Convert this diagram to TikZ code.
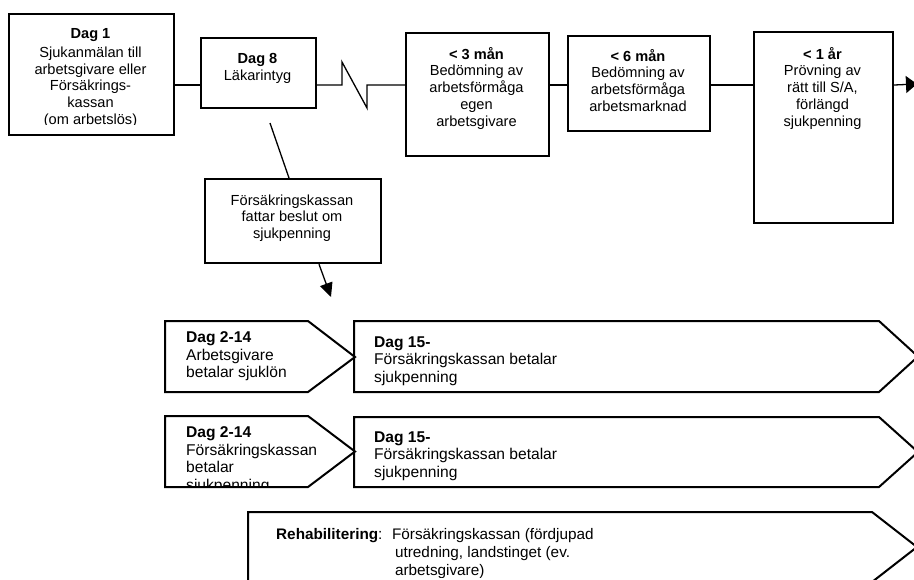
\documentclass[tikz,border=0pt]{standalone}
\usepackage{fontspec}
\setmainfont{Liberation Sans}
\usetikzlibrary{arrows.meta,calc}
\begin{document}
\begin{tikzpicture}[x=1pt,y=-1pt,
  box/.style={draw, line width=2.2pt, inner sep=0pt, anchor=north west},
  conn/.style={line width=1.3pt},
  ttxt/.style={inner sep=0pt, anchor=north, align=center, font=\fontsize{14.6}{16.7}\selectfont},
  btxt/.style={inner sep=0pt, anchor=north west, align=left, font=\fontsize{15.6}{17.5}\selectfont},
  pent/.style={draw, line width=2pt, line join=miter}
]
\useasboundingbox (0,0) rectangle (914,579);
\clip (0,0) rectangle (914,579);

% top boxes
\node[box, minimum width=165pt, minimum height=121pt] (d1) at (8,13) {};
\node[box, minimum width=115pt, minimum height=70pt] (d8) at (200,37) {};
\node[box, minimum width=143pt, minimum height=123pt] (m3) at (405,32) {};
\node[box, minimum width=142pt, minimum height=95pt] (m6) at (567,35) {};
\node[box, minimum width=139pt, minimum height=191pt] (y1) at (753,31) {};
\node[box, minimum width=176pt, minimum height=84pt] (fk) at (204,178) {};

\begin{scope}
\clip (8,0) rectangle (173,124);
\node[ttxt] (d1t) at (90.5,28) {\textbf{Dag 1}\\[2.5pt]Sjukanmälan till\\arbetsgivare eller\\Försäkrings-\\kassan\\(om arbetslös)};
\end{scope}
\node[ttxt] (d8t) at (257.5,53) {\textbf{Dag 8}\\Läkarintyg};
\node[ttxt] (m3t) at (476.5,47) {\textbf{< 3 mån}\\Bedömning av\\arbetsförmåga\\egen\\arbetsgivare};
\node[ttxt] (m6t) at (638,49) {\textbf{< 6 mån}\\Bedömning av\\arbetsförmåga\\arbetsmarknad};
\node[ttxt] (y1t) at (822.5,47) {\textbf{< 1 år}\\Prövning av\\rätt till S/A,\\förlängd\\sjukpenning};
\node[ttxt] (fkt) at (292,194.5) {Försäkringskassan\\fattar beslut om\\sjukpenning};

% connectors
\coordinate (row) at (0,85);
\coordinate (zz1) at (342,85);
\coordinate (zz2) at (342,62);
\coordinate (zz3) at (367,108);
\coordinate (zz4) at (367,85);
\coordinate (aend) at (917,84);
\draw[conn] (d1.east |- row) -- (d8.west |- row);
\draw[conn, line join=miter] (d8.east |- row) -- (zz1) -- (zz2) -- (zz3) -- (zz4) -- (m3.west |- row);
\draw[conn] (m3.east |- row) -- (m6.west |- row);
\draw[conn] (m6.east |- row) -- (y1.west |- row);
\draw[conn, -{Triangle[length=11pt,width=17pt]}] (y1.east |- row) -- (aend);

\coordinate (ls) at (270,123);
\draw[conn] (ls) -- ($(fk.north west)+(85,0)$);
\coordinate (ae) at (331,297);
\draw[conn, -{Triangle[length=14pt,width=13pt]}] ($(fk.south west)+(115,0)$) -- (ae);

% row 1
\draw[pent] (165,321) -- (308,321) -- (355,357) -- (308,392) -- (165,392) -- cycle;
\draw[pent] (354,321) -- (879,321) -- (918,356.5) -- (879,392) -- (354,392) -- cycle;
\node[btxt] (r1l) at (186,331.5) {\textbf{Dag 2-14}\\Arbetsgivare\\betalar sjuklön};
\node[btxt] (r1r) at (374,336.5) {\textbf{Dag 15-}\\Försäkringskassan betalar\\sjukpenning};

% row 2
\draw[pent] (165,416) -- (308,416) -- (355,451.5) -- (308,487) -- (165,487) -- cycle;
\draw[pent] (354,417) -- (879,417) -- (918,452) -- (879,487) -- (354,487) -- cycle;
\begin{scope}
\clip (160,400) rectangle (320,486);
\node[btxt] (r2l) at (186,426.5) {\textbf{Dag 2-14}\\Försäkringskassan\\betalar\\sjukpenning};
\end{scope}
\node[btxt] (r2r) at (374,431.5) {\textbf{Dag 15-}\\Försäkringskassan betalar\\sjukpenning};

% rehab
\draw[pent] (248,512) -- (872,512) -- (917,547) -- (872,582) -- (248,582) -- cycle;
\begin{scope}
\clip (250,514) rectangle (870,577);
\node[btxt, font=\fontsize{15.3}{18}\selectfont] (reh) at (276,527) {\textbf{Rehabilitering}: \hspace{4pt}\begin{tabular}[t]{@{}l@{}}Försäkringskassan (fördjupad\\\hspace{3pt}utredning, landstinget (ev.\\\hspace{3pt}arbetsgivare)\end{tabular}};
\end{scope}
\end{tikzpicture}
\end{document}
